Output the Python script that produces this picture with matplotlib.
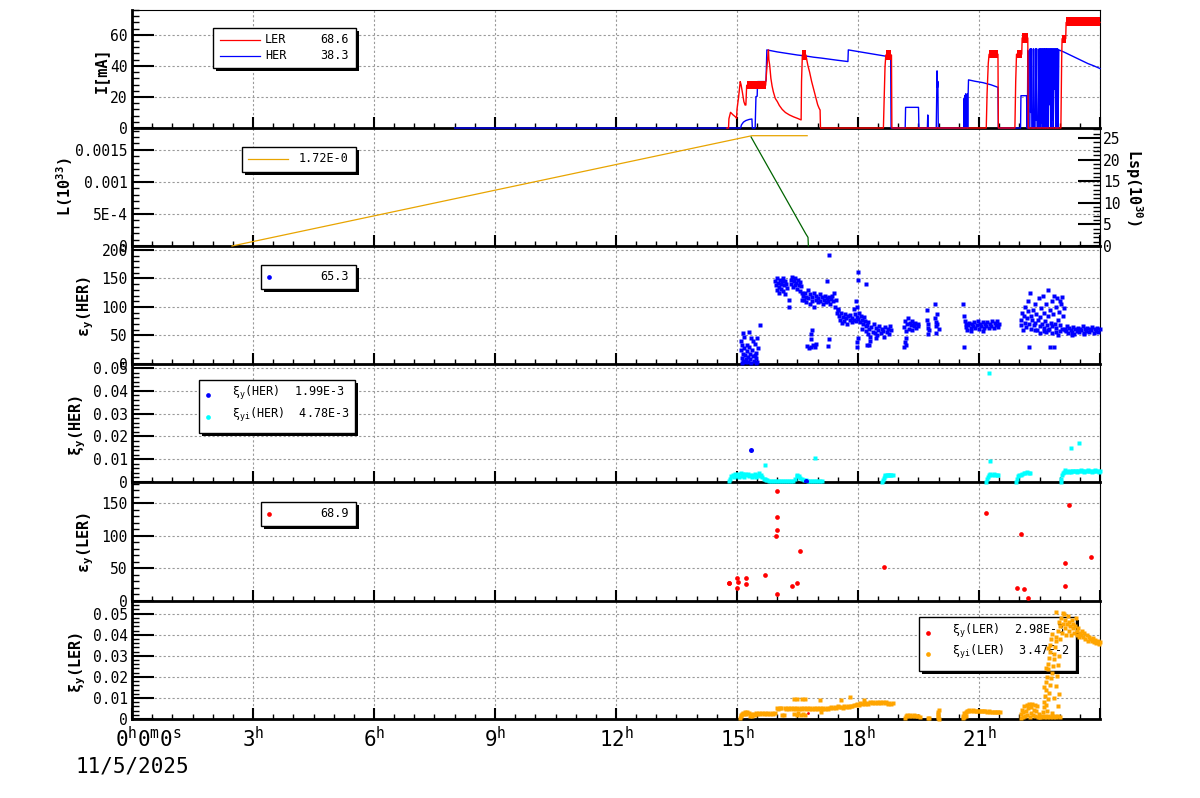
# SuperKEKB style six-panel time chart (beam current, luminosity, emittance, beam-beam)
import numpy as np
import matplotlib
matplotlib.use('Agg')
import matplotlib.pyplot as plt
import matplotlib.transforms as mtransforms
from matplotlib.patches import Rectangle
from matplotlib.ticker import FixedLocator, AutoMinorLocator

# ---------------- data (time in hours of 11/5/2025) ----------------
# beam currents [mA], polyline vertices (t, I)
her_current = [
    (8.00, 0), (15.09, 0), (15.11, 2.0), (15.16, 3.8), (15.22, 4.8), (15.30, 5.5), (15.37, 5.8), (15.38, 0),
    (15.45, 0), (15.47, 20.2), (15.50, 20.5), (15.51, 29.9), (15.71, 29.9), (15.72, 30.5), (15.74, 50.3),
    (15.84, 49.8), (16.00, 49.0), (16.15, 48.4), (16.35, 47.6), (16.50, 47.0), (16.70, 46.4), (16.90, 45.6),
    (17.10, 45.0), (17.30, 44.3), (17.50, 43.6), (17.75, 42.8), (17.76, 50.3), (17.90, 49.7), (18.10, 48.9),
    (18.30, 48.0), (18.50, 47.2), (18.70, 46.2), (18.81, 45.6), (18.82, 0), (19.17, 0), (19.18, 13.3),
    (19.50, 13.3), (19.51, 0), (19.72, 0), (19.73, 8.4), (19.74, 0), (19.94, 0), (19.95, 20), (19.96, 36.8),
    (19.97, 26), (19.98, 30), (19.99, 0), (20.62, 0), (20.63, 19), (20.64, 0), (20.65, 21), (20.66, 0),
    (20.67, 22), (20.68, 5), (20.69, 21.5), (20.70, 0), (20.71, 22), (20.72, 0), (20.73, 21.3), (20.74, 31.0),
    (20.90, 30.1), (21.10, 29.2), (21.30, 27.8), (21.47, 26.2), (21.48, 0), (22.03, 0), (22.04, 20.8),
    (22.18, 20.8), (22.19, 0), (22.20, 0), (22.21, 50), (22.22, 0), (22.26, 0), (22.27, 51), (22.28, 10),
    (22.30, 51), (22.31, 0), (22.34, 0), (22.35, 51), (22.36, 0), (22.39, 0), (22.40, 51), (22.41, 5),
    (22.43, 51), (22.44, 0), (22.47, 0), (22.48, 25), (22.49, 51), (22.50, 0), (22.52, 51), (22.53, 0),
    (22.55, 51), (22.56, 3), (22.58, 51), (22.59, 0), (22.61, 51), (22.62, 8), (22.63, 51), (22.64, 0),
    (22.66, 51), (22.67, 20), (22.68, 51), (22.69, 0), (22.71, 51), (22.72, 0), (22.74, 51), (22.75, 15),
    (22.77, 51), (22.78, 0), (22.80, 51), (22.81, 5), (22.83, 51), (22.84, 0), (22.86, 51), (22.87, 25),
    (22.89, 51), (22.90, 0), (22.92, 51), (22.93, 0), (22.95, 51), (22.96, 0), (22.98, 50.3), (23.10, 49.0),
    (23.30, 46.5), (23.50, 44.0), (23.70, 41.5), (23.85, 40.0), (24.00, 38.3),
]
ler_current = [
    (14.75, 0), (14.79, 0), (14.80, 6.0), (14.84, 10.1), (14.90, 8.5), (14.97, 7.0), (14.99, 6.2), (15.00, 12.0),
    (15.04, 20.0), (15.08, 29.9), (15.10, 28.0), (15.14, 22.0), (15.17, 17.0), (15.20, 14.8), (15.22, 14.8),
    (15.24, 27.5), (15.71, 27.5), (15.73, 35.0), (15.76, 45.0), (15.78, 50.3), (15.79, 44.0), (15.81, 40.6),
    (15.84, 32.0), (15.87, 27.0), (15.90, 23.4), (15.95, 19.0), (16.00, 17.0), (16.05, 14.5), (16.12, 12.0),
    (16.20, 10.0), (16.30, 8.4), (16.40, 7.2), (16.50, 6.2), (16.59, 5.2), (16.60, 30.0), (16.62, 47.0),
    (16.71, 47.0), (16.73, 43.9), (16.76, 40.0), (16.80, 36.0), (16.85, 30.0), (16.90, 25.0), (16.95, 20.0),
    (17.00, 15.0), (17.04, 12.5), (17.06, 11.6), (17.07, 0), (18.63, 0), (18.65, 20.0), (18.67, 39.5),
    (18.69, 47.0), (18.83, 47.0), (18.84, 0), (21.18, 0), (21.20, 22.0), (21.23, 41.7), (21.25, 47.5),
    (21.47, 47.5), (21.48, 0), (21.89, 0), (21.91, 30.0), (21.93, 47.5), (22.06, 47.5), (22.07, 58.0),
    (22.21, 58.0), (22.22, 0), (23.03, 0), (23.05, 45.0), (23.06, 57.5), (23.15, 57.5), (23.16, 68.0),
    (24.00, 68.0),
]
# LER injection noise bands: start, end, low, high [mA]
ler_band_t0 = [15.24, 16.60, 18.69, 21.25, 21.93, 22.07, 23.06, 23.16]
ler_band_t1 = [15.71, 16.71, 18.83, 21.47, 22.06, 22.21, 23.15, 24.00]
ler_band_lo = [25.0, 44.0, 44.0, 45.0, 45.0, 55.0, 55.0, 65.4]
ler_band_hi = [30.0, 50.3, 50.3, 50.3, 50.3, 61.0, 60.0, 71.4]

# luminosity L (1e33) and specific luminosity Lsp (1e30)
lum_t = [2.48, 15.37, 16.74]
lum_v = [0.0, 0.00172, 0.00172]
lsp_t = [15.35, 16.70, 16.76, 16.77]
lsp_v = [25.2, 2.9, 2.0, 0.0]

# vertical emittance HER
eps_her = [
    (15.10, 40), (15.12, 33), (15.10, 25), (15.14, 18), (15.12, 10), (15.15, 5), (15.18, 28), (15.20, 15),
    (15.22, 8), (15.20, 3), (15.25, 22), (15.27, 12), (15.28, 4), (15.30, 30), (15.32, 18), (15.33, 9),
    (15.35, 2), (15.38, 25), (15.40, 14), (15.42, 6), (15.45, 35), (15.47, 20), (15.48, 10), (15.50, 3),
    (15.52, 28), (15.50, 45), (15.15, 55), (15.30, 56), (15.40, 40), (15.57, 68), (15.35, 45), (15.18, 47),
    (15.44, 16), (15.24, 33), (15.13, 2), (15.47, 2),
    (15.95, 145), (15.97, 138), (15.99, 150), (16.00, 130), (16.02, 142), (16.04, 135), (16.05, 125),
    (16.07, 148), (16.09, 140), (16.10, 132), (16.12, 145), (16.14, 150), (16.15, 128), (16.17, 138),
    (16.19, 146), (16.20, 122), (16.22, 140), (16.25, 133), (16.28, 112), (16.30, 100), (16.33, 148),
    (16.35, 140), (16.37, 152), (16.39, 135), (16.41, 145), (16.43, 138), (16.45, 150), (16.47, 142),
    (16.49, 132), (16.51, 147), (16.53, 139), (16.55, 128), (16.57, 144), (16.59, 136), (16.60, 124),
    (16.62, 113),
    (16.63, 120), (16.66, 112), (16.68, 125), (16.70, 108), (16.72, 118), (16.75, 130), (16.77, 115),
    (16.80, 105), (16.82, 122), (16.85, 110), (16.87, 118), (16.90, 100), (16.92, 125), (16.95, 112),
    (16.97, 120), (17.00, 108), (17.02, 115), (17.05, 122), (17.07, 110), (17.10, 117), (17.12, 105),
    (17.15, 113), (17.17, 120), (17.20, 108), (17.22, 115), (17.25, 111), (17.27, 118), (17.30, 106),
    (17.32, 114), (17.35, 120), (17.37, 110), (17.40, 125), (17.42, 100), (17.45, 112), (17.47, 90),
    (17.50, 97),
    (16.73, 32), (16.78, 28), (16.83, 30), (16.88, 33), (16.93, 29), (16.97, 35), (16.83, 43), (16.84, 52),
    (16.85, 60), (17.27, 43), (17.26, 32), (17.97, 30), (17.98, 38), (18.00, 45), (18.22, 33), (18.28, 33),
    (17.27, 192), (17.99, 161), (18.00, 147), (17.24, 146), (18.20, 141),
    (17.52, 85), (17.55, 78), (17.58, 90), (17.60, 72), (17.63, 82), (17.66, 76), (17.68, 88), (17.71, 80),
    (17.73, 70), (17.76, 84), (17.79, 77), (17.81, 86), (17.84, 73), (17.86, 81), (17.89, 78), (17.92, 88),
    (17.94, 75), (17.97, 83), (18.00, 79), (18.02, 90), (18.05, 74), (18.07, 85), (18.10, 78), (18.12, 70),
    (18.15, 82), (18.18, 76), (18.20, 66), (17.50, 95), (17.90, 96), (17.95, 110), (17.98, 100),
    (18.20, 58), (18.22, 68), (18.25, 52), (18.28, 62), (18.30, 47), (18.33, 65), (18.36, 57), (18.39, 70),
    (18.42, 55), (18.45, 63), (18.48, 50), (18.50, 60), (18.53, 67), (18.56, 54), (18.59, 62), (18.62, 58),
    (18.65, 48), (18.68, 65), (18.71, 57), (18.74, 62), (18.77, 53), (18.80, 66), (18.83, 59), (18.30, 41),
    (18.45, 45), (18.26, 74), (18.10, 62),
    (19.15, 65), (19.17, 75), (19.19, 58), (19.21, 70), (19.24, 80), (19.26, 62), (19.28, 72), (19.31, 68),
    (19.33, 60), (19.35, 75), (19.38, 70), (19.40, 66), (19.42, 72), (19.45, 64), (19.48, 70), (19.50, 67),
    (19.16, 38), (19.18, 45), (19.14, 30), (19.20, 34),
    (19.71, 95), (19.72, 78), (19.73, 70), (19.74, 64), (19.75, 60), (19.90, 105), (19.92, 80), (19.93, 73),
    (19.94, 66), (19.95, 88), (19.97, 70), (20.00, 62), (19.73, 53), (19.93, 55),
    (20.63, 85), (20.65, 75), (20.67, 70), (20.69, 65), (20.71, 60), (20.73, 68), (20.76, 72), (20.79, 63),
    (20.82, 70), (20.85, 66), (20.88, 73), (20.91, 64), (20.94, 69), (20.97, 75), (21.00, 62), (21.03, 70),
    (21.06, 67), (21.09, 73), (21.12, 64), (21.15, 71), (21.18, 66), (21.21, 74), (21.24, 63), (21.27, 70),
    (21.30, 67), (21.33, 75), (21.36, 64), (21.39, 72), (21.42, 68), (21.45, 76), (21.48, 65), (21.50, 71),
    (20.61, 106), (20.62, 30), (20.80, 58), (21.10, 58),
    (22.03, 78), (22.05, 68), (22.07, 90), (22.09, 60), (22.11, 85), (22.13, 72), (22.15, 100), (22.17, 65),
    (22.19, 80), (22.21, 110), (22.22, 93), (22.24, 70), (22.26, 125), (22.28, 85), (22.30, 62), (22.32, 77),
    (22.34, 95), (22.36, 68), (22.38, 105), (22.40, 72), (22.42, 88), (22.44, 60), (22.46, 78), (22.48, 115),
    (22.50, 66), (22.52, 82), (22.54, 98), (22.56, 70), (22.58, 120), (22.60, 63), (22.62, 90), (22.64, 75),
    (22.66, 105), (22.68, 68), (22.70, 85), (22.72, 130), (22.74, 62), (22.76, 95), (22.78, 72), (22.80, 110),
    (22.82, 66), (22.84, 88), (22.86, 120), (22.88, 70), (22.90, 100), (22.92, 63), (22.94, 115), (22.96, 78),
    (22.98, 92), (23.00, 110), (23.02, 68), (23.04, 105), (23.06, 118), (23.08, 85), (23.10, 98), (23.12, 60),
    (22.25, 30), (22.75, 30), (22.85, 30), (22.95, 50), (22.50, 55), (22.40, 60), (22.60, 58), (22.80, 55),
    (22.70, 60), (22.65, 57), (22.90, 56), (23.00, 58), (23.05, 62),
    (23.12, 62), (23.15, 58), (23.18, 66), (23.21, 55), (23.24, 63), (23.27, 60), (23.30, 57), (23.33, 65),
    (23.36, 52), (23.39, 61), (23.42, 58), (23.45, 64), (23.48, 56), (23.51, 62), (23.54, 59), (23.57, 66),
    (23.60, 54), (23.63, 61), (23.66, 58), (23.69, 64), (23.72, 56), (23.75, 62), (23.78, 59), (23.81, 65),
    (23.84, 55), (23.87, 61), (23.90, 58), (23.93, 64), (23.96, 57), (23.99, 62), (23.30, 50), (23.60, 52),
]

# beam-beam parameters HER (units of 1e-3)
xi_her = [(15.34, 13.9), (16.72, 0.5)]
xi_i_her = [
    (14.80, 0.3), (14.83, 1.5), (14.86, 2.5), (14.90, 3.0), (14.93, 2.0), (14.96, 3.3), (15.00, 2.6),
    (15.03, 3.5), (15.06, 2.2), (15.09, 3.8), (15.12, 2.8), (15.15, 3.3), (15.18, 2.0), (15.21, 3.6),
    (15.24, 2.9), (15.27, 3.4), (15.30, 2.5), (15.33, 3.0), (15.36, 2.2), (15.39, 3.2), (15.42, 2.7),
    (15.45, 3.5), (15.48, 2.4), (15.51, 3.0), (15.54, 3.8), (15.57, 2.6), (15.60, 3.2), (15.63, 2.2),
    (15.66, 1.5), (15.69, 1.2), (15.72, 1.0), (15.75, 0.8), (15.80, 0.6), (15.85, 0.5), (15.90, 0.4),
    (15.95, 0.5), (16.00, 0.3), (16.05, 0.4), (16.10, 0.3), (16.15, 0.4), (16.20, 0.3), (16.25, 0.4),
    (16.30, 0.3), (16.35, 0.4), (16.40, 0.5), (16.45, 1.5), (16.48, 2.8), (16.50, 3.0), (16.53, 2.6),
    (16.56, 1.8), (16.60, 1.2), (16.65, 0.9), (16.70, 0.7), (16.75, 0.6), (16.80, 0.6), (16.85, 0.5),
    (16.90, 0.5), (16.95, 0.6), (17.00, 0.5), (17.05, 0.6), (17.10, 0.5), (15.70, 7.3), (16.94, 10.4),
    (18.60, 0.2), (18.62, 1.0), (18.64, 1.8), (18.66, 2.5), (18.68, 3.0), (18.71, 3.2), (18.74, 3.1),
    (18.77, 3.0), (18.80, 3.2), (18.83, 3.0), (18.86, 2.9),
    (21.18, 0.1), (21.20, 1.2), (21.22, 2.2), (21.25, 3.0), (21.28, 3.3), (21.32, 3.2), (21.36, 3.3),
    (21.40, 3.1), (21.44, 3.2), (21.48, 3.0), (21.26, 48.0), (21.28, 9.2),
    (21.92, 0.1), (21.94, 1.5), (21.96, 2.5), (21.99, 3.0), (22.03, 3.1), (22.07, 3.5), (22.11, 3.8),
    (22.15, 4.0), (22.19, 4.2), (22.23, 4.1), (22.27, 4.0),
    (23.03, 0.1), (23.04, 1.5), (23.06, 3.0), (23.08, 4.0), (23.10, 4.5), (23.13, 5.2), (23.16, 4.6),
    (23.19, 4.8), (23.22, 4.5), (23.25, 4.9), (23.28, 4.6), (23.31, 4.8), (23.34, 5.0), (23.37, 4.7),
    (23.40, 4.9), (23.43, 4.6), (23.46, 5.0), (23.49, 4.8), (23.52, 5.1), (23.55, 4.7), (23.58, 4.9),
    (23.61, 4.6), (23.64, 5.0), (23.67, 4.8), (23.70, 5.2), (23.73, 4.7), (23.76, 4.9), (23.79, 4.6),
    (23.82, 5.0), (23.85, 4.8), (23.88, 5.4), (23.91, 4.7), (23.94, 5.0), (23.97, 4.6), (24.00, 4.8),
    (23.28, 14.8), (23.48, 17.0),
]

# vertical emittance LER
eps_ler = [
    (14.79, 27.2), (14.81, 27.2), (15.01, 34.9), (15.02, 28.7), (15.01, 19.5), (15.23, 34.9), (15.23, 25.6),
    (15.70, 39.5), (15.98, 168.7), (16.00, 128.7), (15.99, 108.7), (15.97, 99.5), (16.00, 10.3),
    (16.55, 76.4), (16.37, 22.6), (16.50, 27.2), (18.65, 51.8), (21.18, 134.9), (22.03, 102.6),
    (21.95, 19.5), (22.12, 18.0), (22.22, 4.1), (23.24, 147.2), (23.12, 58.0), (23.14, 22.6), (23.77, 67.2),
]

# beam-beam parameters LER (units of 1e-3)
xi_ler = [(16.77, 3.0)]
xi_i_ler = [
    (15.07, 0.3), (15.09, 1.2), (15.11, 2.0), (15.13, 2.6), (15.15, 3.0), (15.17, 2.4), (15.20, 3.2),
    (15.23, 2.5), (15.26, 3.4), (15.29, 2.8), (15.32, 1.5), (15.35, 2.2), (15.38, 1.6), (15.41, 2.6),
    (15.44, 1.9), (15.47, 2.8), (15.50, 2.4), (15.54, 2.8), (15.58, 2.2), (15.62, 2.9), (15.66, 2.4),
    (15.70, 3.0), (15.74, 2.5), (15.78, 2.9), (15.82, 2.3), (15.86, 2.8), (15.90, 2.6), (15.94, 3.0),
    (15.98, 5.1), (16.02, 4.9), (16.06, 5.2), (16.10, 5.0), (16.12, 1.8), (16.16, 1.9), (16.18, 5.0),
    (16.22, 4.7), (16.26, 5.1), (16.30, 4.8), (16.34, 5.0), (16.38, 4.6), (16.42, 5.1), (16.46, 4.8),
    (16.50, 5.0), (16.54, 4.7), (16.58, 5.1), (16.62, 4.9), (16.66, 5.0), (16.70, 4.6), (16.74, 5.1),
    (16.78, 4.8), (16.82, 5.0), (16.86, 4.7), (16.90, 5.1), (16.94, 4.9), (16.98, 5.0), (17.02, 4.6),
    (17.06, 5.1), (17.10, 4.8), (17.14, 5.0), (17.18, 4.7), (17.22, 5.1), (17.26, 4.9),
    (16.42, 2.2), (16.48, 1.8), (16.52, 2.7), (16.58, 2.0), (16.64, 2.5), (16.68, 1.9),
    (16.42, 9.5), (16.50, 9.6), (16.60, 9.4), (16.68, 9.5), (17.07, 9.0), (17.57, 9.2), (17.80, 10.3),
    (18.16, 9.0), (17.08, 3.2),
    (17.30, 5.2), (17.34, 5.6), (17.38, 5.1), (17.42, 5.8), (17.46, 5.4), (17.50, 6.0), (17.54, 5.5),
    (17.58, 5.9), (17.62, 5.3), (17.66, 6.0), (17.70, 5.6), (17.74, 6.1), (17.78, 5.7), (17.82, 6.0),
    (17.86, 6.3), (17.90, 6.8), (17.94, 6.5), (17.98, 7.1), (18.02, 6.7), (18.06, 7.4), (18.10, 6.9),
    (18.14, 7.6), (18.18, 7.2), (18.22, 7.8), (18.26, 7.3), (18.30, 8.0), (18.34, 7.4), (18.38, 7.9),
    (18.42, 7.5), (18.46, 8.1), (18.50, 7.6), (18.54, 8.2), (18.58, 7.5), (18.62, 8.0), (18.66, 7.4),
    (18.70, 7.9), (18.74, 7.3), (18.78, 7.8), (18.82, 7.2), (18.86, 7.6),
    (19.17, 0.3), (19.19, 1.2), (19.22, 1.8), (19.26, 1.6), (19.30, 1.9), (19.34, 1.5), (19.38, 1.8),
    (19.42, 1.6), (19.46, 1.4), (19.50, 1.2), (19.53, 1.0),
    (19.74, 0.4), (19.76, 0.3), (19.98, 0.5), (19.98, 1.5), (19.99, 2.5), (19.99, 3.5), (20.00, 4.5),
    (20.00, 0.2),
    (20.60, 0.3), (20.61, 1.5), (20.62, 2.8), (20.63, 0.8), (20.65, 2.0), (20.67, 3.5), (20.69, 1.2),
    (20.71, 3.8), (20.73, 4.0), (20.76, 4.2), (20.80, 4.0), (20.84, 4.1), (20.88, 3.9), (20.92, 4.0),
    (20.96, 3.8), (21.00, 3.9), (21.04, 3.7), (21.08, 3.8), (21.12, 3.6), (21.16, 3.7), (21.20, 3.5),
    (21.24, 3.6), (21.28, 3.4), (21.32, 3.5), (21.36, 3.3), (21.40, 3.4), (21.44, 3.3), (21.48, 3.2),
    (21.51, 3.3),
    (22.03, 0.5), (22.04, 2.5), (22.06, 4.5), (22.08, 1.0), (22.10, 3.5), (22.12, 6.0), (22.14, 1.5),
    (22.16, 4.0), (22.18, 6.5), (22.20, 2.0), (22.22, 5.0), (22.24, 7.0), (22.26, 1.0), (22.28, 3.0),
    (22.30, 5.5), (22.32, 7.2), (22.34, 2.0), (22.36, 4.5), (22.38, 6.8), (22.40, 1.5), (22.42, 3.8),
    (22.44, 6.0), (22.46, 0.8), (22.48, 2.5), (22.50, 1.0),
    (22.52, 0.8), (22.56, 1.2), (22.60, 0.9), (22.64, 1.3), (22.68, 1.0), (22.72, 1.4), (22.76, 1.1),
    (22.80, 1.3), (22.84, 0.9), (22.88, 1.2), (22.92, 1.0), (22.96, 1.3), (23.00, 1.1),
    (22.60, 5.5), (22.62, 8.0), (22.64, 11.0), (22.66, 14.0), (22.67, 17.5), (22.69, 20.0), (22.70, 23.5),
    (22.72, 26.0), (22.74, 29.0), (22.75, 32.0), (22.77, 35.0), (22.79, 38.0), (22.81, 40.5), (22.65, 6.5),
    (22.70, 9.5), (22.73, 12.5), (22.76, 16.0), (22.78, 19.5), (22.80, 22.0), (22.83, 25.0), (22.85, 28.5),
    (22.87, 31.0), (22.88, 34.0), (22.90, 37.0), (22.92, 39.0), (22.58, 3.5), (22.68, 4.0), (22.82, 3.0),
    (22.95, 6.0), (22.98, 12.0), (22.86, 10.0), (22.90, 15.5), (22.93, 20.5), (22.97, 25.5), (22.99, 30.0),
    (22.62, 15.0), (22.66, 24.0), (22.72, 33.5),
    (22.95, 42), (22.98, 46), (23.00, 38), (23.02, 44), (23.04, 48), (23.06, 41), (23.08, 45), (23.10, 50),
    (23.12, 43), (23.14, 47), (23.16, 40), (23.18, 45), (23.20, 49), (23.22, 42), (23.24, 46), (23.26, 44),
    (23.28, 40), (23.30, 47), (23.32, 43), (23.34, 45), (23.36, 41), (23.38, 44), (23.40, 48), (23.42, 42),
    (23.44, 40), (23.46, 43), (23.48, 39), (23.50, 41), (23.08, 50.5), (22.92, 51),
    (23.52, 40), (23.55, 42), (23.58, 39), (23.61, 41), (23.64, 38), (23.67, 40), (23.70, 37), (23.73, 39),
    (23.76, 38), (23.79, 37), (23.82, 38.5), (23.85, 36.5), (23.88, 37.5), (23.91, 36), (23.94, 37),
    (23.97, 35.5), (24.00, 36.5),
]

hour_ticks = [0, 3, 6, 9, 12, 15, 18, 21, 24]
hour_labels = ['', '3$^{h}$', '6$^{h}$', '9$^{h}$', '12$^{h}$', '15$^{h}$', '18$^{h}$', '21$^{h}$', '']

# ---------------- style ----------------
plt.rcParams['font.family'] = ['DejaVu Sans Mono', 'DejaVu Sans']
plt.rcParams['mathtext.fontset'] = 'custom'
plt.rcParams['mathtext.rm'] = 'DejaVu Sans Mono'
plt.rcParams['mathtext.it'] = 'DejaVu Sans Mono'
plt.rcParams['mathtext.bf'] = 'DejaVu Sans Mono:bold'
plt.rcParams['mathtext.default'] = 'regular'

W, H = 1200, 798
fig = plt.figure(figsize=(W / 100, H / 100), dpi=100)
# pixel coordinates, origin top-left (used for boxes and labels)
PX = mtransforms.Affine2D().scale(1 / W, -1 / H).translate(0, 1) + fig.transFigure

tops = [10, 128, 246, 364, 482, 601]
bots = [128, 246, 364, 482, 601, 719]
axes = [fig.add_axes([132 / W, 1 - b / H, 968 / W, (b - t) / H]) for t, b in zip(tops, bots)]

ylims = [76, 0.00184, 207, 0.0518, 183, 0.056]
ymajors = [[0, 20, 40, 60], [0, 5e-4, 1e-3, 1.5e-3], [0, 50, 100, 150, 200],
           [0, 0.01, 0.02, 0.03, 0.04, 0.05], [0, 50, 100, 150], [0, 0.01, 0.02, 0.03, 0.04, 0.05]]
ylabels_tick = [['0', '20', '40', '60'], ['0', '5E-4', '0.001', '0.0015'], ['0', '50', '100', '150', '200'],
                ['0', '0.01', '0.02', '0.03', '0.04', '0.05'], ['0', '50', '100', '150'],
                ['0', '0.01', '0.02', '0.03', '0.04', '0.05']]

grid_kw = dict(color='#9a9a9a', linestyle=(0, (2, 2)), linewidth=0.8)

for k, ax in enumerate(axes):
    # upper panels drawn last so their traces at zero sit on top of the shared border
    ax.set_zorder(10 - k)
    ax.patch.set_visible(False)
    ax.set_xlim(0, 24)
    ax.set_ylim(0, ylims[k])
    ax.set_axisbelow(True)
    ax.xaxis.set_major_locator(FixedLocator(hour_ticks))
    ax.xaxis.set_minor_locator(FixedLocator(np.arange(0, 24.01, 0.5)))
    ax.yaxis.set_major_locator(FixedLocator(ymajors[k]))
    ax.yaxis.set_minor_locator(AutoMinorLocator(5))
    ax.set_yticklabels(ylabels_tick[k])
    ax.tick_params(axis='both', which='both', direction='in', top=False, right=False, color='black')
    ax.tick_params(axis='x', which='major', length=8, width=1.5, pad=5, labelsize=15)
    ax.tick_params(axis='x', which='minor', length=3.6, width=1.0)
    ax.tick_params(axis='y', which='major', length=15.5, width=1.5, pad=3, labelsize=10.5)
    ax.tick_params(axis='y', which='minor', length=5, width=1.0)
    if k == 5:
        ax.set_xticklabels(hour_labels)
    else:
        ax.set_xticklabels([])
    ax.grid(True, which='major', **grid_kw)
    ax.spines['left'].set_linewidth(2.0)
    ax.spines['bottom'].set_linewidth(2.0)
    ax.spines['top'].set_linewidth(0.8)
    ax.spines['right'].set_linewidth(0.8)
    if k > 0:
        ax.spines['top'].set_visible(False)

ax1, ax2, ax3, ax4, ax5, ax6 = axes

# panel 1: currents (drawn over the axis line so the zero level shows)
ax1.plot(*zip(*her_current), color='#0000ff', lw=1.0, zorder=4, clip_on=False)
ax1.plot(*zip(*ler_current), color='#ff0000', lw=1.0, zorder=5, clip_on=False)
for t0, t1, lo, hi in zip(ler_band_t0, ler_band_t1, ler_band_lo, ler_band_hi):
    ax1.fill_between([t0, t1], [lo, lo], [hi, hi], color='#ff0000', lw=0, zorder=5)

# panel 2: luminosity, specific luminosity on the right axis
ax2.plot(lum_t, lum_v, color='#e8a400', lw=0.9, zorder=4, clip_on=False)
ax2r = ax2.twinx()
ax2r.set_zorder(10 - 1 + 0.5)
ax2r.patch.set_visible(False)
ax2r.set_ylim(0, 27.3)
ax2r.plot(lsp_t, lsp_v, color='#006400', lw=0.9, zorder=4, clip_on=False)
ax2r.yaxis.set_major_locator(FixedLocator([0, 5, 10, 15, 20, 25]))
ax2r.yaxis.set_minor_locator(AutoMinorLocator(5))
ax2r.tick_params(axis='y', which='major', direction='in', length=15.5, width=1.5, pad=2, labelsize=10.5)
ax2r.tick_params(axis='y', which='minor', direction='in', length=5, width=1.0)
for s in ax2r.spines.values():
    s.set_visible(False)

# panel 3: HER emittance
ax3.plot(*zip(*eps_her), ls='none', marker='s', ms=2.9, mec='none', color='#0000ff', zorder=4, clip_on=False)

# panel 4: HER beam-beam
t, v = zip(*xi_i_her)
ax4.plot(t, np.array(v) * 1e-3, ls='none', marker='s', ms=2.4, mec='none', color='#00ffff', zorder=4,
         clip_on=False)
t, v = zip(*xi_her)
ax4.plot(t, np.array(v) * 1e-3, ls='none', marker='o', ms=3.6, mec='none', color='#0000ff', zorder=5)

# panel 5: LER emittance
ax5.plot(*zip(*eps_ler), ls='none', marker='o', ms=3.4, mec='none', color='#ff0000', zorder=4)

# panel 6: LER beam-beam
t, v = zip(*xi_i_ler)
ax6.plot(t, np.array(v) * 1e-3, ls='none', marker='s', ms=2.7, mec='none', color='#ffa500', zorder=4,
         clip_on=False)
t, v = zip(*xi_ler)
ax6.plot(t, np.array(v) * 1e-3, ls='none', marker='o', ms=2.0, mec='none', color='#ff0000', zorder=5)


# ---------------- legends (ROOT style boxes with shadow) ----------------
def legend_box(ax, x0, y0, x1, y1, z=6):
    ax.add_patch(Rectangle((x0 + 2.5, y0 + 2.5), x1 - x0, y1 - y0, transform=PX, facecolor='black',
                           edgecolor='none', clip_on=False, zorder=z))
    ax.add_patch(Rectangle((x0, y0), x1 - x0, y1 - y0, transform=PX, facecolor='white',
                           edgecolor='black', lw=1.0, clip_on=False, zorder=z + 0.1))


def legend_text(ax, x, y, s, ha='left', z=6.5):
    ax.text(x, y, s, transform=PX, ha=ha, va='center', fontsize=8.5, zorder=z, clip_on=False)


def legend_mark(ax, x, y, color, marker='o', ms=3.4, z=6.5):
    ax.plot([x], [y], transform=PX, ls='none', marker=marker, ms=ms, mec='none', color=color,
            clip_on=False, zorder=z)


def legend_line(ax, x0, x1, y, color, z=6.5):
    ax.plot([x0, x1], [y, y], transform=PX, color=color, lw=0.9, clip_on=False, zorder=z)


legend_box(ax1, 213, 28, 356, 68)
legend_line(ax1, 220, 260, 39.5, '#ff0000')
legend_text(ax1, 265, 39.5, 'LER')
legend_text(ax1, 349, 39.5, '68.6', ha='right')
legend_line(ax1, 220, 260, 55.5, '#0000ff')
legend_text(ax1, 265, 55.5, 'HER')
legend_text(ax1, 349, 55.5, '38.3', ha='right')

legend_box(ax2, 242, 147, 356, 172)
legend_line(ax2, 248, 288, 158.5, '#e8a400')
legend_text(ax2, 349, 158.5, '1.72E-0', ha='right')

legend_box(ax3, 261, 265, 356, 289)
legend_mark(ax3, 268.5, 276.5, '#0000ff')
legend_text(ax3, 349, 276.5, '65.3', ha='right')

legend_box(ax4, 199, 380, 355, 433)
legend_mark(ax4, 207.5, 395, '#0000ff')
legend_text(ax4, 232, 393, 'ξ$_{y}$(HER)  1.99E-3')
legend_mark(ax4, 207.5, 417, '#00ffff')
legend_text(ax4, 232, 415, 'ξ$_{yi}$(HER)  4.78E-3')

legend_box(ax5, 261, 502, 356, 526)
legend_mark(ax5, 268.5, 513.5, '#ff0000')
legend_text(ax5, 349, 513.5, '68.9', ha='right')

# data is drawn over this one
legend_box(ax6, 919, 617, 1076, 671, z=1.5)
legend_mark(ax6, 927.5, 632.5, '#ff0000', z=2)
legend_text(ax6, 952, 630.5, 'ξ$_{y}$(LER)  2.98E-3', z=2)
legend_mark(ax6, 927.5, 654, '#ffa500', z=2)
legend_text(ax6, 952, 652, 'ξ$_{yi}$(LER)  3.47E-2', z=2)

# ---------------- axis titles ----------------
lab_kw = dict(transform=PX, rotation=90, ha='center', va='center', fontsize=11, fontweight='bold')
fig.text(101, 70, 'I[mA]', **lab_kw)
fig.text(65, 187, 'L(10$^{33}$)', **lab_kw)
fig.text(86, 306, 'ε$_{y}$(HER)', **lab_kw)
fig.text(78, 425, 'ξ$_{y}$(HER)', **lab_kw)
fig.text(86, 542, 'ε$_{y}$(LER)', **lab_kw)
fig.text(78, 662, 'ξ$_{y}$(LER)', **lab_kw)
fig.text(1134, 187, 'Lsp(10$^{30}$)', transform=PX, rotation=270, ha='center', va='center',
         fontsize=11, fontweight='bold')

fig.text(115, 726, '0$^{h}$0$^{m}$0$^{s}$', transform=PX, ha='left', va='top', fontsize=15)
fig.text(76, 757, '11/5/2025', transform=PX, ha='left', va='top', fontsize=15)

fig.savefig('out.png', dpi=100)
